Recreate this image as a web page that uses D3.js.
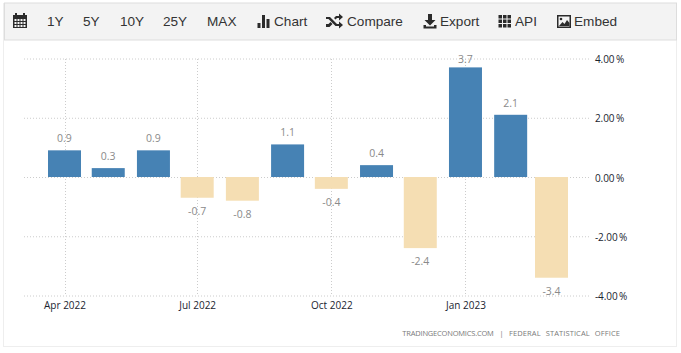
<!DOCTYPE html>
<html>
<head>
<meta charset="utf-8">
<script src="https://cdn.jsdelivr.net/npm/d3@7"></script>
<style>
html, body { margin:0; padding:0; background:#fff; overflow:hidden; }
.grid line { stroke:#ccc; stroke-dasharray:1,2; }
.axis text { font-family:"Open Sans",sans-serif; font-size:10px; fill:#1a2430; }
.axis.y text { word-spacing:-1px; letter-spacing:-0.1px; }
.axis path, .axis line { display:none; }
.value { font-family:"Open Sans",sans-serif; font-size:10.5px; fill:#8a8a8a; text-anchor:middle; }
.tool { font-family:"Liberation Sans",Arial,sans-serif; font-size:13.6px; fill:#333; }
</style>
</head>
<body>
<svg id="drawing_region" width="681" height="353"></svg>
<script>
const months = ["2022-04","2022-05","2022-06","2022-07","2022-08","2022-09","2022-10","2022-11","2022-12","2023-01","2023-02","2023-03"];
const values = [0.9,0.3,0.9,-0.7,-0.8,1.1,-0.4,0.4,-2.4,3.7,2.1,-3.4];
const xTicks = ["2022-04","2022-07","2022-10","2023-01"];
const yTicks = [4,2,0,-2,-4];
const rangeButtons = [["1Y",47],["5Y",83],["10Y",120],["25Y",163],["MAX",207]];
const toolButtons = [["Chart",274],["Compare",347],["Export",440],["API",515],["Embed",574]];

const parseMonth = d3.timeParse("%Y-%m");
const barWidth = 33;
const svg = d3.select("#drawing_region");

// frame + toolbar
svg.append("rect").attr("x",3.5).attr("y",3.5).attr("width",673).attr("height",343)
    .attr("fill","#fff").attr("stroke","#eee");
svg.append("rect").attr("x",4.5).attr("y",3).attr("width",672).attr("height",37)
    .attr("fill","#f3f3f3").attr("stroke","#ddd");

// the x axis is a real time axis, so Feb -> Mar is a shorter step
const xscale = d3.scaleTime()
    .domain([parseMonth(months[0]), parseMonth(months[months.length-1])])
    .range([64.5,551.5]);
const yscale = d3.scaleLinear().domain([-4,4]).range([295.5,58.5]);

// grid
const grid = svg.append("g").attr("class","grid");
grid.selectAll(".h").data(yTicks).enter().append("line")
    .attr("x1",24).attr("x2",590)
    .attr("y1",d => yscale(d)+0.5).attr("y2",d => yscale(d)+0.5);
grid.selectAll(".v").data(xTicks).enter().append("line")
    .attr("x1",d => Math.round(xscale(parseMonth(d)))+0.5)
    .attr("x2",d => Math.round(xscale(parseMonth(d)))+0.5)
    .attr("y1",59).attr("y2",296);

// bars
svg.selectAll(".bar").data(values).enter().append("rect")
    .attr("class","bar")
    .attr("x",(d,i) => xscale(parseMonth(months[i]))-barWidth/2)
    .attr("width",barWidth)
    .attr("y",d => yscale(Math.max(d,0)))
    .attr("height",d => Math.abs(yscale(d)-yscale(0)))
    .attr("fill",d => d >= 0 ? "#4682b4" : "#f5deb3");

// labels above the plot top get pushed back down, like the 3.7 one
svg.selectAll(".value").data(values).enter().append("text")
    .attr("class","value")
    .attr("x",(d,i) => xscale(parseMonth(months[i])))
    .attr("y",d => d >= 0 ? Math.max(yscale(d)-8, 63) : yscale(d)+17)
    .text(d => d.toFixed(1));

// axes
svg.append("g").attr("class","axis")
    .attr("transform","translate(0,299)")
    .call(d3.axisBottom(xscale).tickValues(xTicks.map(parseMonth)).tickSize(0).tickPadding(3)
        .tickFormat(d3.timeFormat("%b %Y")));
svg.append("g").attr("class","axis y")
    .attr("transform","translate(595,1)")
    .call(d3.axisRight(yscale).tickValues(yTicks).tickSize(0).tickPadding(0)
        .tickFormat(d => d.toFixed(2)+" %"));

// toolbar text
svg.selectAll(".range").data(rangeButtons).enter().append("text")
    .attr("class","tool").attr("x",d => d[1]).attr("y",26)
    .text(d => d[0]);
svg.selectAll(".btn").data(toolButtons).enter().append("text")
    .attr("class","tool").attr("x",d => d[1]).attr("y",26)
    .text(d => d[0]);

// toolbar icons
const icons = svg.append("g").attr("fill","#2b2b2b");
// calendar
icons.append("path").attr("d","M13 15h14v13h-14z M15 13h2v3h-2z M23 13h2v3h-2z");
icons.selectAll(".cal").data(d3.range(12)).enter().append("rect")
    .attr("x",d => 14.5+(d%4)*3).attr("y",d => 19+Math.floor(d/4)*3)
    .attr("width",2).attr("height",2).attr("fill","#f3f3f3");
// bar chart
icons.append("path").attr("d","M257.500 23h3v5h-3z M262 15h3v13h-3z M266.500 19h3v9h-3z");
// shuffle
icons.append("path").attr("d","M326 17h4l7 7h2v-2.500l4 3.500-4 3.500v-2.500h-3.500l-7-7h-2.500z M326 24h2.500l2-2 2 2-3 3h-3.500z M334 18l2-2h3v-2.500l4 3.500-4 3.500v-2.500h-2l-1.500 1.500z");
// export
icons.append("path").attr("d","M428 14h4v6h3.500l-5.500 5.500-5.500-5.500h3.500z M423.500 25h2.500v1.500h8v-1.500h2.500v3.500h-13z");
// api grid
icons.selectAll(".api").data(d3.range(9)).enter().append("rect")
    .attr("x",d => 498.500+(d%3)*4.500).attr("y",d => 15+Math.floor(d/3)*4.500)
    .attr("width",3.500).attr("height",3.500);
// embed image
icons.append("path").attr("fill-rule","evenodd")
    .attr("d","M557 15h14v13h-14z M558.500 16.500v10h11v-10z");
icons.append("path").attr("d","M559 26l3.500-4 2 2 2.500-4 2.500 3v3z");
icons.append("circle").attr("cx",561).attr("cy",19).attr("r",1.300);

// source
const source = svg.append("text").attr("x",620).attr("y",336).attr("text-anchor","end")
    .attr("font-family","'Open Sans',sans-serif").attr("font-size","7.5px")
    .attr("fill","#7a7a7a");
source.append("tspan").attr("letter-spacing","-0.2px").attr("word-spacing","4px").text("TRADINGECONOMICS.COM | ");
source.append("tspan").attr("letter-spacing","0.1px").attr("word-spacing","3px").text("FEDERAL STATISTICAL OFFICE");
</script>
</body>
</html>
